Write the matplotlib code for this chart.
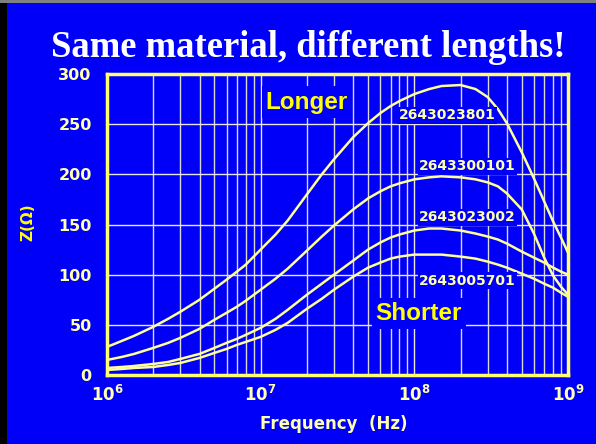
import matplotlib
matplotlib.use("Agg")
import matplotlib.pyplot as plt
from matplotlib.ticker import FixedLocator, NullFormatter

plt.rcParams['font.family'] = ['DejaVu Sans']
plt.rcParams['mathtext.fontset'] = 'custom'
plt.rcParams['mathtext.rm'] = 'DejaVu Sans:bold'
plt.rcParams['mathtext.bf'] = 'DejaVu Sans:bold'
plt.rcParams['mathtext.it'] = 'DejaVu Sans:bold'

# ---- data ----
freq_hz = [1e6, 1.25e6, 1.5e6, 2e6, 2.5e6, 3e6, 4e6, 5e6, 6e6, 7e6, 8e6,
           1e7, 1.25e7, 1.5e7, 2e7, 2.5e7, 3e7, 4e7, 5e7, 6e7, 7e7, 8e7,
           1e8, 1.25e8, 1.5e8, 2e8, 2.5e8, 3e8, 3.5e8, 4e8, 5e8, 6e8, 7e8, 8e8, 9e8, 1e9]
z_2643023801 = [28, 34, 39, 48, 56, 63, 75, 86, 95, 103, 110,
                125, 140, 154, 180, 200, 215, 237, 251, 261, 268, 273,
                280, 285, 288, 289, 285, 277, 265, 251, 222, 196, 173, 153, 137, 122]
z_2643300101 = [15, 18, 21, 27, 32, 37, 46, 55, 62, 68, 74,
                85, 96, 106, 124, 138, 149, 165, 176, 183, 188, 191,
                195, 197, 198, 197, 195, 192, 188, 181, 165, 141, 117, 99, 88, 80]
z_2643023002 = [7, 8, 9, 11, 13, 16, 21, 27, 32, 36, 40,
                47, 56, 65, 80, 91, 100, 114, 125, 132, 137, 140,
                144, 146, 146, 144, 141, 138, 135, 131, 123, 117, 112, 107, 103, 100]
z_2643005701 = [5, 6, 7, 8, 10, 12, 17, 22, 26, 30, 33,
                38, 45, 52, 66, 76, 85, 98, 107, 112, 116, 118,
                120, 120, 120, 118, 116, 113, 110, 107, 101, 96, 91, 87, 82, 78]
part_labels = ['2643023801', '2643300101', '2643023002', '2643005701']
label_x = [1.63e8, 2.22e8, 2.22e8, 2.22e8]
label_y = [259, 208, 157, 94]
y_ticks = [0, 50, 100, 150, 200, 250, 300]
x_ticks = [1e6, 1e7, 1e8, 1e9]
x_tick_labels = [r'$\mathbf{10^{6}}$', r'$\mathbf{10^{7}}$', r'$\mathbf{10^{8}}$', r'$\mathbf{10^{9}}$']

BLUE = '#0000f8'
PALE = '#ffffb0'
CURVE = '#ffff9a'

fig = plt.figure(figsize=(5.96, 4.44), dpi=100, facecolor=BLUE)
ax = fig.add_axes([107/596, 1-375/444, (568-107)/596, (375-74)/444])
ax.set_facecolor(BLUE)
ax.set_xscale('log')
ax.set_xlim(1e6, 1e9)
ax.set_ylim(0, 300)

# grid
minor = [m * 10**e for e in (6, 7, 8) for m in range(2, 10)]
ax.xaxis.set_major_locator(FixedLocator(x_ticks))
ax.xaxis.set_minor_locator(FixedLocator(minor))
ax.xaxis.set_minor_formatter(NullFormatter())
ax.set_yticks(y_ticks)
ax.grid(True, which='major', axis='both', color='#e6e6e6', lw=1.0, zorder=1)
ax.grid(True, which='minor', axis='x', color='#d8d8d8', lw=1.0, zorder=1)
ax.set_axisbelow(True)

series = [z_2643023801, z_2643300101, z_2643023002, z_2643005701]
for s in series:
    ax.plot(freq_hz, s, color=CURVE, lw=1.8, zorder=3,
            solid_capstyle='round', solid_joinstyle='round')

for lab, lx, ly in zip(part_labels, label_x, label_y):
    ax.text(lx, ly, lab, color=PALE, fontsize=10, fontweight='bold',
            ha='center', va='center', zorder=4,
            bbox=dict(facecolor=BLUE, edgecolor='none', pad=1.0))

ax.text(2.0e7, 272, 'Longer', color='#ffff00', fontsize=17.5, fontweight='bold',
        family='Liberation Sans', ha='center', va='center', zorder=4,
        bbox=dict(facecolor=BLUE, edgecolor='none', pad=3))
ax.text(1.07e8, 61, 'Shorter', color='#ffff00', fontsize=17.5, fontweight='bold',
        family='Liberation Sans', ha='center', va='center', zorder=4,
        bbox=dict(facecolor=BLUE, edgecolor='none', pad=3))

for sp in ax.spines.values():
    sp.set_color('#ffff70')
    sp.set_linewidth(2.5)
    sp.set_zorder(5)

ax.tick_params(axis='both', which='both', length=0, colors=PALE)
ax.set_xticklabels(x_tick_labels, fontsize=12)
ax.tick_params(axis='x', pad=7)
ax.tick_params(axis='y', pad=11)
for t in ax.get_yticklabels():
    t.set_fontweight('bold')
    t.set_fontsize(11.5)

fig.text(334/596, 1-424/444, 'Frequency  (Hz)', color=PALE, fontsize=12,
         fontweight='bold', ha='center', va='center')
fig.text(28/596, 1-222/444, 'Z(Ω)', color='#ffff00', fontsize=11, fontweight='bold',
         rotation=90, ha='center', va='center')

fig.text(308/596, 1-57/444, 'Same material, different lengths!', color='white',
         fontsize=26.4, fontweight='bold', family='Liberation Serif',
         ha='center', va='baseline')

# outer frame edges
fig.patches.append(plt.Rectangle((0, 0), 7/596, 1, transform=fig.transFigure,
                                 facecolor='black', edgecolor='none'))
fig.patches.append(plt.Rectangle((0, 1-3/444), 1, 3/444, transform=fig.transFigure,
                                 facecolor='#808080', edgecolor='none'))

fig.savefig('out.png', dpi=100, facecolor=BLUE)
